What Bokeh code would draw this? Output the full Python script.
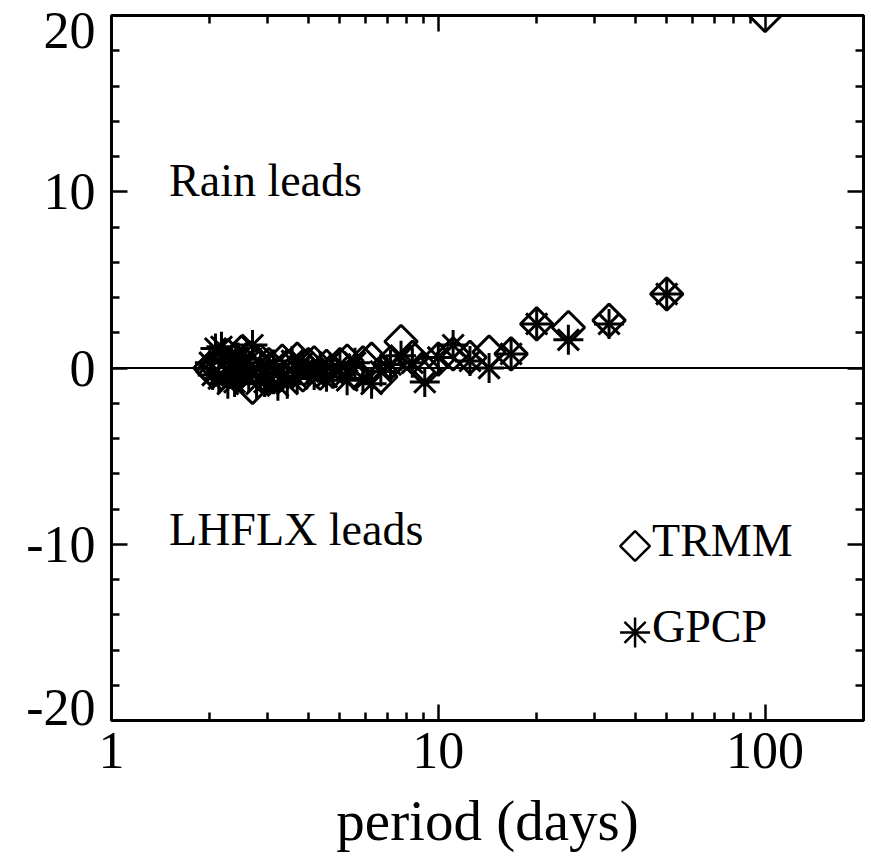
import math
from bokeh.plotting import figure
from bokeh.models import (LogAxis, LinearAxis, FixedTicker, Span, Label, Range1d)
from bokeh.embed import file_html
from bokeh.resources import INLINE

# ---- data ----
period = [100.0, 50.0, 33.3, 25.0, 20.0, 16.7, 14.3, 12.5, 11.1, 10.0,
          9.09, 8.33, 7.69, 7.14, 6.67, 6.25, 5.88, 5.56, 5.26, 5.00,
          4.76, 4.55, 4.35, 4.17, 4.00, 3.85, 3.70, 3.57, 3.45, 3.33,
          3.23, 3.13, 3.03, 2.94, 2.86, 2.78, 2.70, 2.63, 2.56, 2.50,
          2.44, 2.38, 2.33, 2.27, 2.22, 2.17, 2.13, 2.08, 2.04, 2.00]

trmm_lag = [20.0, 4.2, 2.7, 2.3, 2.5, 0.8, 0.9, 0.6, 0.8, 0.5,
            -0.1, 0.6, 1.5, 0.3, -0.5, 0.5, 0.3, -0.3, 0.4, 0.2,
            -0.2, 0.1, -0.3, 0.3, 0.2, -0.4, 0.5, -0.2, 0.1, 0.4,
            -0.3, -0.5, 0.2, -0.6, 0.4, 0.3, -1.1, 0.6, 0.2, 0.9,
            -0.4, 0.5, -0.2, 0.7, 0.3, -0.3, 0.2, 0.1, -0.2, 0.0]

gpcp_period = period[1:]
gpcp_lag = [4.2, 2.5, 1.6, 2.5, 0.8, 0.0, 0.4, 1.3, 0.6,
            -0.8, 0.3, 0.7, 0.2, -0.2, -0.9, -0.6, 0.3, -0.7, 0.2,
            -0.3, -0.5, 0.1, -0.4, -0.2, 0.3, -0.6, 0.4, -0.9, -0.5,
            -1.0, 0.2, -0.4, -0.8, 0.3, -0.9, 1.3, -0.5, 0.5, -0.3,
            0.6, -0.8, 0.3, -0.9, 0.4, 1.2, -0.6, 1.1, -0.4, 0.3]

x_major = [1, 10, 100]
x_minor = [2, 3, 4, 5, 6, 7, 8, 9, 20, 30, 40, 50, 60, 70, 80, 90, 200]
y_major = [-20, -10, 0, 10, 20]
y_minor = [-18, -16, -14, -12, -8, -6, -4, -2, 2, 4, 6, 8, 12, 14, 16, 18]

series_names = ["TRMM", "GPCP"]
region_text = ["Rain leads", "LHFLX leads"]

FONT = "Liberation Serif"

p = figure(x_axis_type="log", x_range=Range1d(1, 200), y_range=Range1d(-20, 20),
           frame_width=752, frame_height=705,
           min_border_left=111, min_border_right=6, min_border_top=15,
           min_border_bottom=142,
           output_backend="svg", toolbar_location=None,
           background_fill_color="white", border_fill_color="white")
p.grid.visible = False
p.outline_line_color = "black"
p.outline_line_width = 3

xt = FixedTicker(ticks=x_major, minor_ticks=x_minor)
yt = FixedTicker(ticks=y_major, minor_ticks=y_minor)

def style(ax, labels=True):
    ax.axis_line_color = "black"
    ax.axis_line_width = 3
    ax.major_tick_in = 16
    ax.major_tick_out = 0
    ax.minor_tick_in = 8
    ax.minor_tick_out = 0
    ax.major_tick_line_width = 2.5
    ax.minor_tick_line_width = 2.5
    ax.major_tick_line_color = "black"
    ax.minor_tick_line_color = "black"
    if labels:
        ax.major_label_text_font = FONT
        ax.major_label_text_font_size = "52px"
        ax.major_label_text_color = "black"
    else:
        ax.major_label_text_font_size = "1px"
        ax.major_label_text_alpha = 0
        ax.major_label_standoff = 0

xa = p.xaxis[0]
xa.ticker = xt
style(xa)
xa.major_label_overrides = {v: str(v) for v in x_major}
xa.major_label_standoff = 12
xa.axis_label = "period (days)"
xa.axis_label_text_font = FONT
xa.axis_label_text_font_size = "57px"
xa.axis_label_text_font_style = "normal"
xa.axis_label_text_color = "black"
xa.axis_label_standoff = 18

# left axis: ticks only
ya = p.yaxis[0]
ya.ticker = yt
style(ya, labels=False)

# second left axis: the tick labels only; the end labels are nudged inward
# (as in the original) so that they stay on the canvas
nudge = {y_major[0]: 0.75, y_major[-1]: -0.85}
label_pos = [v + nudge.get(v, 0.0) for v in y_major]
ylab = LinearAxis(ticker=FixedTicker(ticks=label_pos, minor_ticks=[]))
ylab.axis_line_color = None
ylab.major_tick_line_color = None
ylab.minor_tick_line_color = None
ylab.major_tick_in = 0
ylab.major_tick_out = 0
ylab.minor_tick_in = 0
ylab.minor_tick_out = 0
ylab.major_label_text_font = FONT
ylab.major_label_text_font_size = "52px"
ylab.major_label_text_color = "black"
ylab.major_label_standoff = 16
ylab.major_label_overrides = {pos: str(v) for pos, v in zip(label_pos, y_major)}
p.add_layout(ylab, "left")

top = LogAxis(ticker=xt)
style(top, labels=False)
p.add_layout(top, "above")
right = LinearAxis(ticker=yt)
style(right, labels=False)
p.add_layout(right, "right")

p.add_layout(Span(location=0, dimension="width", line_color="black", line_width=2))

p.scatter(period, trmm_lag, marker="square", angle=math.pi / 4, size=23,
          fill_color=None, line_color="black", line_width=3)
p.scatter(gpcp_period, gpcp_lag, marker="cross", size=30,
          line_color="black", line_width=3)
p.scatter(gpcp_period, gpcp_lag, marker="x", size=30,
          line_color="black", line_width=3)

p.add_layout(Label(x=1.5, y=10, y_offset=11, text=region_text[0], text_font=FONT,
                   text_font_size="46px", text_color="black",
                   text_baseline="alphabetic"))
p.add_layout(Label(x=1.5, y=-10, y_offset=15, text=region_text[1], text_font=FONT,
                   text_font_size="46px", text_color="black",
                   text_baseline="alphabetic"))

# manual legend (diamond key must keep its 45 degree rotation)
key_x = 40.0
key_y = [-10.1, -15.0]
p.scatter([key_x], [key_y[0]], marker="square", angle=math.pi / 4, size=21,
          fill_color=None, line_color="black", line_width=2.5)
p.scatter([key_x], [key_y[1]], marker="cross", size=30, line_color="black", line_width=2.5)
p.scatter([key_x], [key_y[1]], marker="x", size=30, line_color="black", line_width=2.5)
for name, ky in zip(series_names, key_y):
    p.add_layout(Label(x=key_x, y=ky, x_offset=17, y_offset=6, text=name,
                       text_font=FONT, text_font_size="46px", text_color="black",
                       text_baseline="alphabetic"))

open("out.html", "w").write(file_html(p, INLINE))
